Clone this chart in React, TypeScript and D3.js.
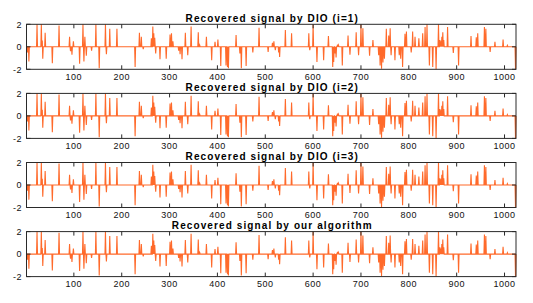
import { useRef, useEffect } from "react";
import * as d3 from "d3";

// sparse signal: sample index (1..1024) and amplitude of each nonzero sample
const spikeIndex = [
  3, 6, 23, 32, 34, 35, 40, 55, 69, 91, 93, 96, 99, 112, 119, 121, 123, 126, 137, 146,
  153, 166, 168, 175, 190, 228, 237, 241, 245, 262, 265, 267, 269, 271, 280, 293, 301, 304,
  307, 319, 322, 326, 333, 338, 345, 360, 363, 377, 388, 395, 401, 407, 418, 421, 423, 439,
  447, 450, 460, 474, 487, 506, 515, 518, 521, 528, 530, 542, 555, 591, 593, 600, 608, 622,
  632, 641, 643, 646, 648, 651, 653, 661, 673, 677, 690, 695, 700, 704, 718, 725, 737, 740,
  743, 746, 749, 753, 758, 761, 763, 771, 780, 783, 787, 792, 795, 805, 808, 813, 821, 829,
  834, 838, 843, 850, 857, 862, 865, 867, 869, 871, 873, 881, 893, 904, 930, 941, 944, 958,
  961, 970, 980, 997, 1006, 1023,
];
const spikeValue = [
  -0.5, -1.3, 2.0, 2.0, 0.55, -1.05, 1.25, -1.45, 1.9, 0.9, -0.4, -0.7, 0.5, -1.5, 2.0, -1.3, 0.9, -0.8, -0.35, 2.0,
  -1.9, 2.0, -0.65, 1.6, 1.6, -1.8, 1.25, 0.9, -0.2, 0.75, 1.8, 1.2, 0.8, -0.6, -1.1, -1.05, 1.1, 1.2,
  0.5, -0.35, -0.65, -1.1, 1.25, -0.75, 1.8, 1.3, 0.15, 0.9, -1.2, 0.45, 0.65, -1.7, -1.65, -1.8, -1.9, 1.05,
  -0.6, -1.9, -1.7, -0.5, 1.7, -0.45, 0.35, 0.5, -0.3, -0.5, -0.9, 1.5, 1.2, 1.2, -0.3, 2.0, -1.35, -1.2,
  0.95, -1.8, -1.35, -0.6, -0.95, 0.2, 0.15, -1.65, 1.0, -0.7, 1.3, -0.75, 2.0, 1.65, -0.8, 0.6, -0.75, -1.65,
  -1.95, -1.4, -1.05, 1.6, 1.0, 1.65, -0.75, -1.2, -0.75, -1.05, -1.8, 1.15, 1.35, -0.5, 1.35, 0.9, 0.75, 1.2,
  1.75, 2.0, -1.65, -1.8, -2.0, 2.0, 0.6, 0.5, 0.9, 1.3, 0.6, 1.75, -0.55, -1.65, 0.95, 0.85, 1.2, 1.75,
  1.6, -0.45, 0.45, 0.65, 0.12, -2.0,
];

const titles = [
  "Recovered signal by DIO (i=1)",
  "Recovered signal by DIO (i=2)",
  "Recovered signal by DIO (i=3)",
  "Recovered signal by our algorithm",
];
const xTicks = [100, 200, 300, 400, 500, 600, 700, 800, 900, 1000];
const yTicks = [-2, 0, 2];

const N = 1024;
const font = "Liberation Sans, Arial, sans-serif";

const App = () => {
  const svgRef = useRef<SVGSVGElement>(null);

  useEffect(() => {
    if (!svgRef.current) return;
    const svg = d3.select(svgRef.current);
    svg.selectAll("*").remove();

    const left = 26.5;
    const right = 516;
    const panelTop = 24.3;
    const panelH = 45;
    const panelStep = 69.1;

    const signal: number[] = new Array(N).fill(0);
    spikeIndex.forEach((idx, i) => {
      signal[idx - 1] = spikeValue[i];
    });

    const x = d3.scaleLinear().domain([1, N]).range([left, right]);

    titles.forEach((title, p) => {
      const top = panelTop + p * panelStep;
      const y = d3.scaleLinear().domain([-2, 2]).range([top + panelH, top]);
      const g = svg.append("g");

      // signal line
      const line = d3
        .line<number>()
        .x((_, i) => x(i + 1))
        .y((d) => y(d));
      g.append("path")
        .datum(signal)
        .attr("d", line)
        .attr("fill", "none")
        .attr("stroke", "#ff6a2b")
        .attr("stroke-width", 1.1);

      // box
      g.append("rect")
        .attr("x", left)
        .attr("y", top)
        .attr("width", right - left)
        .attr("height", panelH)
        .attr("fill", "none")
        .attr("stroke", "#2a2a2a")
        .attr("stroke-width", 1);

      // x ticks (inward, top and bottom)
      xTicks.forEach((t) => {
        g.append("line")
          .attr("x1", x(t)).attr("x2", x(t))
          .attr("y1", top + panelH).attr("y2", top + panelH - 4)
          .attr("stroke", "#2a2a2a");
        g.append("line")
          .attr("x1", x(t)).attr("x2", x(t))
          .attr("y1", top).attr("y2", top + 4)
          .attr("stroke", "#2a2a2a");
        g.append("text")
          .attr("x", x(t))
          .attr("y", top + panelH + 10.5)
          .attr("text-anchor", "middle")
          .attr("font-family", font)
          .attr("font-size", "9px")
          .attr("letter-spacing", "0.5px")
          .attr("fill", "#111")
          .text(t);
      });

      // y ticks
      yTicks.forEach((t) => {
        g.append("line")
          .attr("x1", left).attr("x2", left + 4)
          .attr("y1", y(t)).attr("y2", y(t))
          .attr("stroke", "#2a2a2a");
        g.append("line")
          .attr("x1", right).attr("x2", right - 4)
          .attr("y1", y(t)).attr("y2", y(t))
          .attr("stroke", "#2a2a2a");
        g.append("text")
          .attr("x", 22)
          .attr("y", y(t) + 3.3)
          .attr("text-anchor", "end")
          .attr("font-family", font)
          .attr("font-size", "9px")
          .attr("letter-spacing", "0.5px")
          .attr("fill", "#111")
          .text(t);
      });

      // title
      g.append("text")
        .attr("x", (left + right) / 2 + 1)
        .attr("y", top - 2.5)
        .attr("text-anchor", "middle")
        .attr("font-family", font)
        .attr("font-weight", "bold")
        .attr("font-size", "10px")
        .attr("letter-spacing", "1.1px")
        .attr("fill", "#000")
        .text(title);
    });
  }, []);

  return (
    <svg
      ref={svgRef}
      width={533}
      height={303}
      style={{ position: "absolute", left: 0, top: 0, background: "#fff" }}
    />
  );
};

export default App;
